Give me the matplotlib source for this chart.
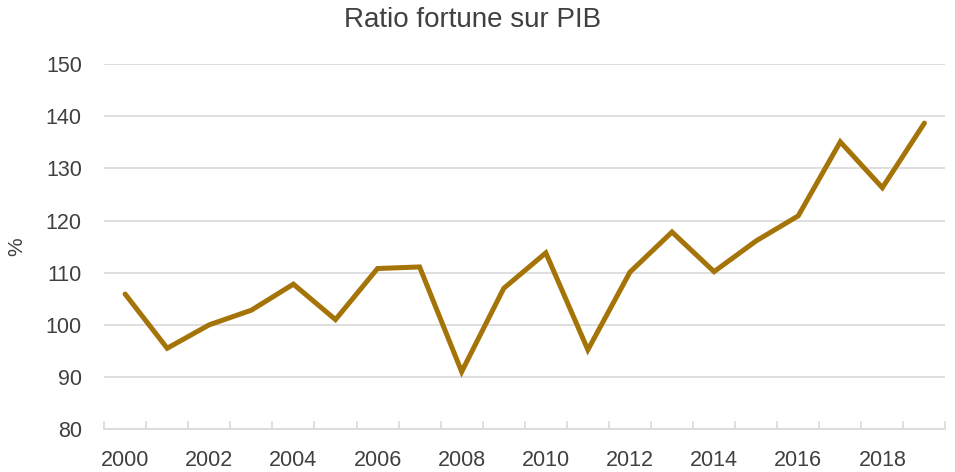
import numpy as np
import matplotlib
matplotlib.use("Agg")
import matplotlib.pyplot as plt

plt.rcParams['font.family'] = ['Liberation Sans', 'DejaVu Sans']

years = list(range(2000, 2020))
ratio = [105.9, 95.5, 100.0, 102.8, 107.8, 101.0, 110.8, 111.1, 91.0, 107.0,
         113.8, 95.2, 110.1, 117.8, 110.2, 116.1, 120.9, 135.1, 126.3, 138.7]
yticks = [80, 90, 100, 110, 120, 130, 140, 150]

text_col = '#404040'
grid_col = '#d9d9d9'

fig = plt.figure(figsize=(9.55, 4.72), dpi=100)
ax = fig.add_axes([0.109, 0.091, 0.881, 0.773])

x = np.arange(len(years))
ax.plot(x, ratio, color='#a57408', linewidth=3.6, solid_joinstyle='miter', solid_capstyle='round', zorder=3)

ax.set_xlim(-0.5, len(years) - 0.5)
ax.set_ylim(80, 150)
ax.set_yticks(yticks)
ax.set_yticklabels([str(v) for v in yticks])
ax.yaxis.grid(True, color=grid_col, linewidth=1.2)
ax.set_axisbelow(True)

# category axis: tick marks between categories, labels every two years
ax.set_xticks(np.arange(-0.5, len(years), 1.0))
ax.set_xticklabels([])
ax.set_xticks(x[::2], minor=True)
ax.set_xticklabels([str(y) for y in years[::2]], minor=True)
ax.tick_params(axis='x', which='major', length=6, color=grid_col, direction='in', width=1.2)
ax.tick_params(axis='x', which='minor', length=0, pad=15, labelsize=15.5, labelcolor=text_col)
ax.tick_params(axis='y', length=0, pad=16, labelsize=15.5, labelcolor=text_col)

for s in ['top', 'right', 'left']:
    ax.spines[s].set_visible(False)
ax.spines['bottom'].set_color(grid_col)
ax.spines['bottom'].set_linewidth(1.2)

ax.set_ylabel('%', fontsize=15, color=text_col, labelpad=14)
fig.text(0.495, 0.958, 'Ratio fortune sur PIB', ha='center', va='center', fontsize=20, color=text_col)

fig.savefig('out.png', dpi=100)
